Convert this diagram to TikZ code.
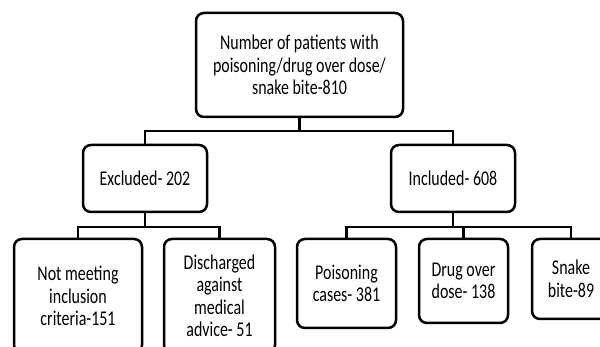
\documentclass[tikz,border=0pt]{standalone}
\usepackage{fontspec}
\setmainfont{Carlito}[FakeStretch=0.76]
\begin{document}
\begin{tikzpicture}[x=1pt,y=-1pt,
  box/.style={draw=black,line width=2.5pt,rounded corners=8pt,align=center,
    inner sep=0pt,font=\fontsize{21}{22.5}\selectfont},
  conn/.style={draw=black,line width=2.5pt}]
\clip (0,0) rectangle (600,347);
\fill[white] (0,0) rectangle (600,347);
\node[box,minimum width=207pt,minimum height=104pt] (top) at (299.5,65)
  {Number of patients with\\poisoning/drug over dose/\\snake bite-810};
\node[box,minimum width=124pt,minimum height=67pt] (exc) at (145,178.5) {Excluded- 202};
\node[box,minimum width=124pt,minimum height=67pt] (inc) at (453,178.5) {Included- 608};
\node[box,minimum width=128pt,minimum height=114pt] (nm) at (78,296)
  {Not meeting\\inclusion\\criteria-151};
\node[box,minimum width=111pt,minimum height=114pt] (dis) at (219.5,296)
  {Discharged\\against\\medical\\advice- 51};
\node[box,minimum width=99pt,minimum height=89pt] (poi) at (346.5,283.5)
  {Poisoning\\cases- 381};
\node[box,minimum width=89pt,minimum height=84pt] (drg) at (463.5,281)
  {Drug over\\dose- 138};
\node[box,minimum width=78pt,minimum height=80pt] (snk) at (571,279)
  {Snake\\bite-89};
\coordinate (j1) at (299.5,131);
\coordinate (j2) at (145,227);
\coordinate (j3) at (453,227);
\draw[conn] (top.south) -- (j1);
\draw[conn] (exc.north) |- (j1) -| (inc.north);
\draw[conn] (exc.south) -- (j2);
\draw[conn] (nm.north) |- (j2) -| (dis.north);
\draw[conn] (inc.south) -- (j3);
\draw[conn] (poi.north) |- (j3) -| (snk.north);
\draw[conn] (drg.north) -- (drg.north |- j3);
\end{tikzpicture}
\end{document}
